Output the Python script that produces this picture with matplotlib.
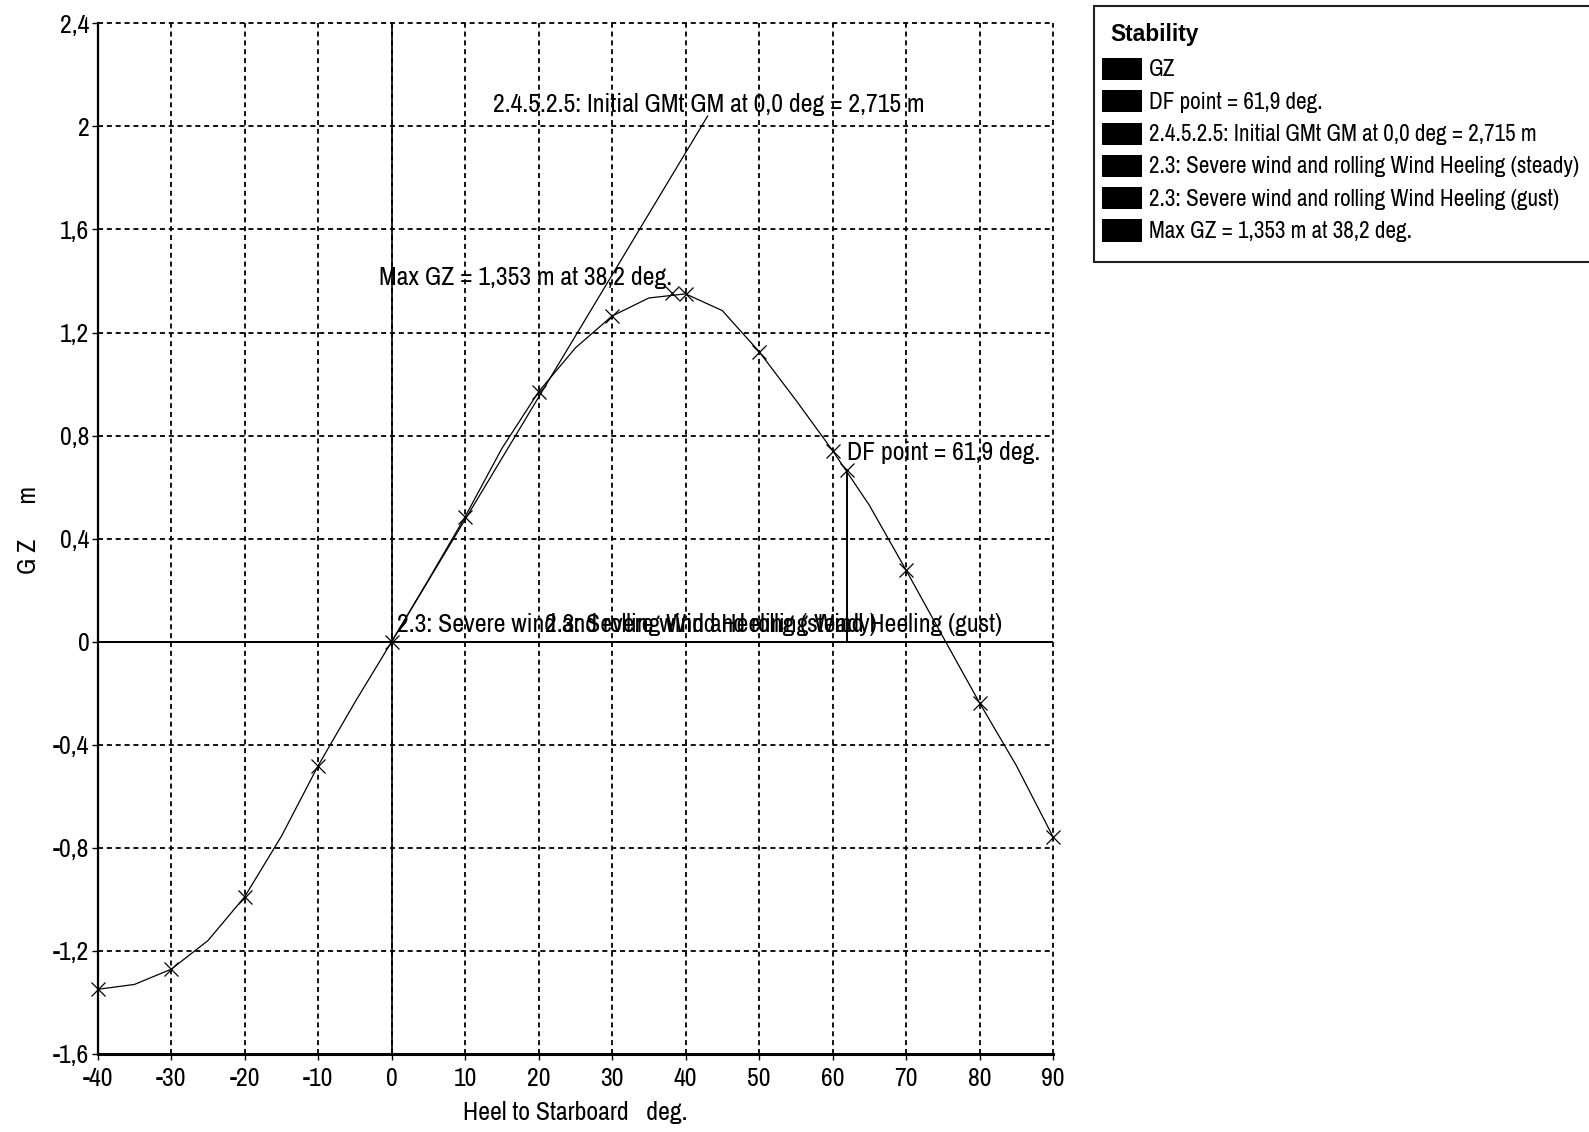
import matplotlib
matplotlib.use("Agg")
import matplotlib.pyplot as plt
from matplotlib import font_manager
from matplotlib.patches import Rectangle

# GZ curve (deg, m)
heel_deg = [-40, -35, -30, -25, -20, -15, -10, -5, 0, 5, 10, 15, 20, 25, 30,
            35, 40, 45, 50, 55, 60, 65, 70, 75, 80, 85, 90]
gz_m = [-1.349, -1.330, -1.271, -1.160, -0.990, -0.755, -0.481, -0.235, 0.0,
        0.240, 0.485, 0.750, 0.970, 1.140, 1.264, 1.334, 1.350, 1.285, 1.126,
        0.938, 0.742, 0.530, 0.278, 0.020, -0.237, -0.480, -0.757]

gm_line_deg = [0.0, 43.0]
gm_line_gz = [0.0, 2.04]

max_gz_deg, max_gz = 38.2, 1.353
df_deg, df_gz = 61.9, 0.667
wind_steady_lever = 0.0
wind_gust_lever = 0.0

x_ticks = [-40, -30, -20, -10, 0, 10, 20, 30, 40, 50, 60, 70, 80, 90]
y_ticks = [-1.6, -1.2, -0.8, -0.4, 0, 0.4, 0.8, 1.2, 1.6, 2.0, 2.4]
y_tick_labels = ["-1,6", "-1,2", "-0,8", "-0,4", "0", "0,4", "0,8", "1,2",
                 "1,6", "2", "2,4"]

legend_title = "Stability"
legend_labels = [
    "GZ",
    "DF point = 61,9 deg.",
    "2.4.5.2.5: Initial GMt GM at 0,0 deg = 2,715 m",
    "2.3: Severe wind and rolling Wind Heeling (steady)",
    "2.3: Severe wind and rolling Wind Heeling (gust)",
    "Max GZ = 1,353 m at 38,2 deg.",
]

# pick a narrow sans if one is installed
installed = {f.name for f in font_manager.fontManager.ttflist}
candidates = ['Liberation Sans Narrow', 'Arial Narrow', 'Archivo Narrow',
              'PT Sans Narrow', 'Roboto Condensed', 'Open Sans Condensed',
              'Fira Sans Condensed', 'IBM Plex Sans Condensed', 'Liberation Sans']
narrow = next(c for c in candidates if c in installed)
bold_ok = any(f.name == narrow and f.weight in (600, 700, 'bold')
              for f in font_manager.fontManager.ttflist)
title_family = narrow if bold_ok else 'Liberation Sans'
plt.rcParams['font.family'] = [narrow, 'DejaVu Sans']

W, H = 1589, 1132
fig = plt.figure(figsize=(W / 100, H / 100), dpi=100)
renderer = fig.canvas.get_renderer()


def fit_size(text, target_px, **kw):
    t = fig.text(0, 0, text, fontsize=20, **kw)
    w = t.get_window_extent(renderer).width
    t.remove()
    return 20 * target_px / w


fs_main = fit_size(legend_labels[2], 432)
fs_leg = fit_size(legend_labels[2], 388)
fs_title = fit_size(legend_title, 88, family=title_family, fontweight='bold')


def fx(px):
    return px / W


def fy(py):
    return 1 - py / H


ax = fig.add_axes([fx(97.7), fy(1054), fx(1053) - fx(97.7), fy(23.3) - fy(1054)])
ax.set_xlim(-40, 90)
ax.set_ylim(-1.6, 2.4)

ax.set_xticks(x_ticks)
ax.set_xticklabels([str(v) for v in x_ticks])
ax.set_yticks(y_ticks)
ax.set_yticklabels(y_tick_labels)
ax.tick_params(axis='x', length=4, width=1, pad=5, labelsize=fs_main)
ax.tick_params(axis='y', length=4, width=1, pad=2, labelsize=fs_main)

ax.grid(True, color='black', linestyle=(0, (2.8, 2.1)), linewidth=1.3)
ax.set_axisbelow(False)
for g in ax.get_xgridlines() + ax.get_ygridlines():
    g.set_clip_on(False)

for side in ['top', 'right']:
    ax.spines[side].set_visible(False)
ax.spines['left'].set_linewidth(1.6)
ax.spines['bottom'].set_linewidth(2.2)

# axes through the origin / wind heeling levers
ax.axvline(0, color='black', linewidth=1.2, zorder=2)
ax.plot([x_ticks[0], x_ticks[-1]], [wind_steady_lever, wind_steady_lever],
        color='black', linewidth=1.4, zorder=2)
ax.plot([x_ticks[0], x_ticks[-1]], [wind_gust_lever, wind_gust_lever],
        color='black', linewidth=1.4, zorder=2)

# GZ curve
ax.plot(heel_deg, gz_m, color='black', linewidth=0.9, marker='x',
        markersize=10, markeredgewidth=0.9, markevery=slice(0, None, 2),
        zorder=4, clip_on=False)

# initial GM tangent
ax.plot(gm_line_deg, gm_line_gz, color='black', linewidth=0.9, zorder=4)

# max GZ and DF point
ax.plot([max_gz_deg], [max_gz], marker='x', color='black', markersize=10,
        markeredgewidth=0.9, zorder=4)
ax.plot([df_deg], [df_gz], marker='x', color='black', markersize=10,
        markeredgewidth=0.9, zorder=4)
ax.plot([df_deg, df_deg], [0, df_gz], color='black', linewidth=1.4, zorder=4)

tkw = dict(fontsize=fs_main, color='black', zorder=1)
ax.text(13.8, 2.055, legend_labels[2], ha='left', va='baseline', **tkw)
ax.text(max_gz_deg, 1.385, legend_labels[5], ha='right', va='baseline', **tkw)
ax.text(df_deg, 0.705, legend_labels[1], ha='left', va='baseline', **tkw)
ax.text(0.7, 0.039, legend_labels[3], ha='left', va='baseline', **tkw)
ax.text(20.9, 0.039, legend_labels[4], ha='left', va='baseline', **tkw)

fig.text(fx(28), fy(530), "G Z      m", rotation=90, ha='center', va='center',
         fontsize=fs_main)
fig.text(fx(575), fy(1112), "Heel to Starboard   deg.", ha='center',
         va='center', fontsize=fs_main)

# legend box drawn by hand
fig.add_artist(Rectangle((fx(1094), fy(262)), fx(1600) - fx(1094),
                         fy(6) - fy(262), transform=fig.transFigure,
                         facecolor='white', edgecolor='#202020',
                         linewidth=1.5, clip_on=False))
fig.text(fx(1110), fy(35), legend_title, ha='left', va='center',
         fontsize=fs_title, fontweight='bold', family=title_family)
for i, lab in enumerate(legend_labels):
    yc = 69 + i * 32.3
    fig.add_artist(Rectangle((fx(1101.7), fy(yc + 11)), fx(40), fy(0) - fy(22),
                             transform=fig.transFigure, facecolor='black',
                             edgecolor='none'))
    fig.text(fx(1149), fy(yc + 1), lab, ha='left', va='center', fontsize=fs_leg)

fig.savefig("out.png", dpi=100)
